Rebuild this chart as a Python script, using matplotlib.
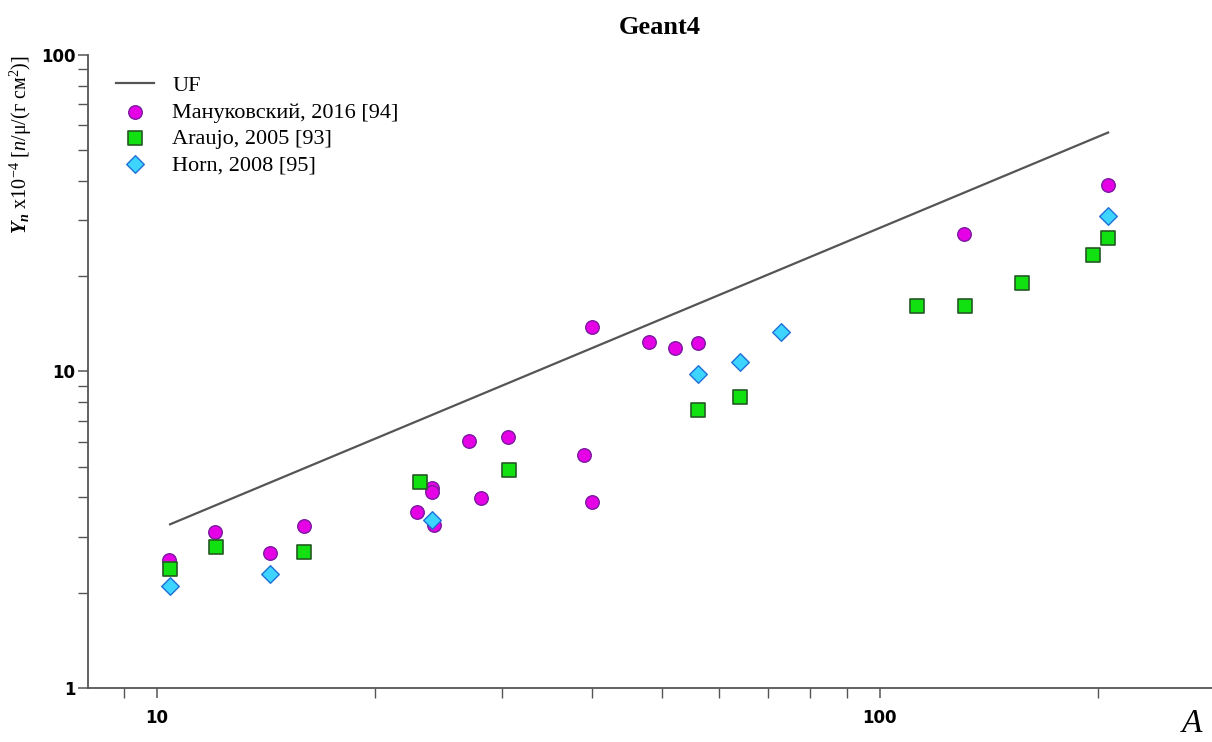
import numpy as np
import matplotlib.pyplot as plt
from matplotlib.ticker import LogLocator, NullFormatter, FixedLocator, FixedFormatter

plt.rcParams['mathtext.fontset'] = 'custom'
plt.rcParams['mathtext.rm'] = 'Liberation Serif'
plt.rcParams['mathtext.it'] = 'Liberation Serif:italic'
plt.rcParams['mathtext.bf'] = 'Liberation Serif:italic:bold'

# UF fit line (end points)
uf_A = [10.43, 206.9]
uf_Y = [3.29, 56.9]

# Мануковский, 2016 [94]
man_A = [10.4, 12.05, 14.33, 15.99, 22.9, 24.03, 24.03, 24.15, 27.0, 28.04, 30.6,
         38.99, 40.0, 40.0, 47.97, 52.0, 56.0, 130.8, 206.8]
man_Y = [2.53, 3.12, 2.67, 3.25, 3.61, 4.27, 4.16, 3.28, 6.02, 3.98, 6.2,
         5.45, 3.88, 13.84, 12.35, 11.85, 12.29, 27.2, 38.8]

# Araujo, 2005 [93]
ara_A = [10.44, 12.06, 16.0, 23.1, 30.7, 56.1, 64.1, 112.4, 131.0, 157.3, 197.0, 207.1]
ara_Y = [2.38, 2.78, 2.68, 4.46, 4.87, 7.53, 8.32, 16.1, 16.05, 19.1, 23.3, 26.4]

# Horn, 2008 [95]
horn_A = [10.43, 14.33, 24.03, 56.0, 64.0, 73.1, 206.9]
horn_Y = [2.10, 2.30, 3.40, 9.85, 10.7, 13.35, 31.0]

fig = plt.figure(figsize=(12.12, 7.42), dpi=100)
ax = fig.add_axes([88 / 1212, 1 - 688 / 742, 1 - 88 / 1212, (688 - 55) / 742])

ax.plot(uf_A, uf_Y, color='#555555', lw=1.6, label='UF', zorder=2)
ax.scatter(man_A, man_Y, s=95, marker='o', facecolor='#e600e6', edgecolor='#7a1aa0',
           linewidth=1.0, label='Мануковский, 2016 [94]', zorder=3)
ax.scatter(ara_A, ara_Y, s=110, marker='s', facecolor='#11e011', edgecolor='#245a24',
           linewidth=1.2, label='Araujo, 2005 [93]', zorder=4)
ax.scatter(horn_A, horn_Y, s=80, marker='D', facecolor='#3dd5ff', edgecolor='#1f6fd6',
           linewidth=1.0, label='Horn, 2008 [95]', zorder=5)

ax.set_xscale('log')
ax.set_yscale('log')
ax.set_xlim(8.03, 288)
ax.set_ylim(1, 100)

for side in ['top', 'right']:
    ax.spines[side].set_visible(False)
for side in ['left', 'bottom']:
    ax.spines[side].set_color('#555555')
    ax.spines[side].set_linewidth(1.3)

ax.xaxis.set_major_locator(FixedLocator([10, 100]))
ax.xaxis.set_major_formatter(FixedFormatter(['10', '100']))
ax.xaxis.set_minor_locator(LogLocator(base=10, subs=np.arange(2, 10)))
ax.xaxis.set_minor_formatter(NullFormatter())
ax.yaxis.set_major_locator(FixedLocator([1, 10, 100]))
ax.yaxis.set_major_formatter(FixedFormatter(['1', '10', '100']))
ax.yaxis.set_minor_locator(LogLocator(base=10, subs=np.arange(2, 10)))
ax.yaxis.set_minor_formatter(NullFormatter())

ax.tick_params(which='major', length=7, width=1.1, color='#555555', labelsize=12, pad=2)
ax.tick_params(which='minor', length=7, width=1.0, color='#555555')
ax.tick_params(axis='x', which='major', pad=8)
for lbl in ax.get_xticklabels() + ax.get_yticklabels():
    lbl.set_fontweight('bold')
    lbl.set_family('DejaVu Sans')

leg = ax.legend(loc='upper left', bbox_to_anchor=(-0.001, 1.013), frameon=False,
                prop={'family': 'Liberation Serif', 'size': 16}, handlelength=1.7,
                handletextpad=0.85, labelspacing=0.26, borderaxespad=0.9)

fig.text(660 / 1212, 1 - 27 / 742, 'Geant4', ha='center', va='center',
         family='Liberation Serif', fontweight='bold', fontsize=19)
fig.text(21 / 1212, 1 - 145 / 742,
         r'$\mathbf{Y_n}$ x10$^{-4}$ [$n$/μ/(г см$^2$)]',
         rotation=90, ha='center', va='center', family='Liberation Serif', fontsize=14.5)
fig.text(1192 / 1212, 1 - 724 / 742, 'A', ha='center', va='center',
         family='Liberation Serif', style='italic', fontsize=24)

fig.savefig('out.png', dpi=100)
